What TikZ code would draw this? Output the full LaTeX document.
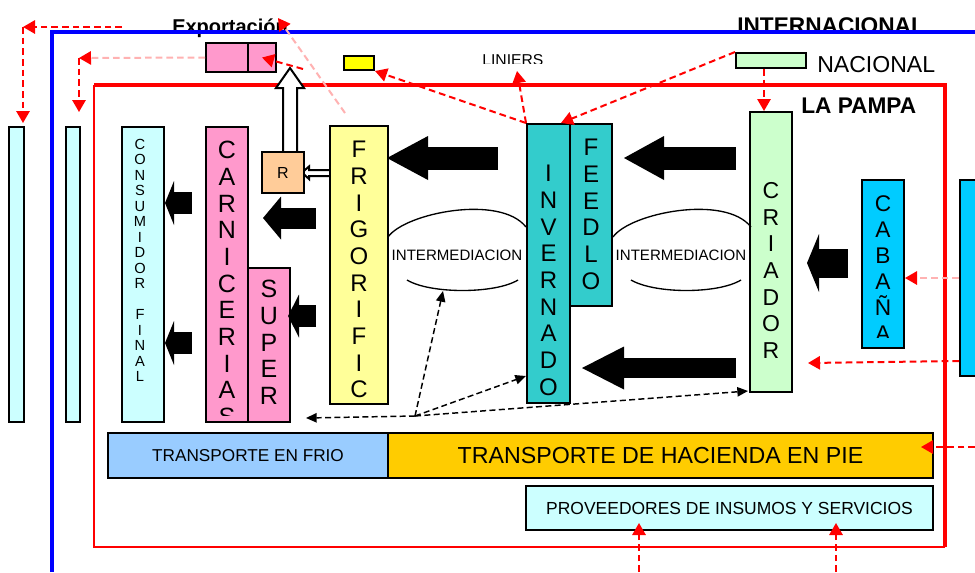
\documentclass[tikz,border=0pt]{standalone}
\usepackage{fontspec}
\setmainfont{Liberation Sans}
\usetikzlibrary{arrows.meta,fit,calc}
\definecolor{cLC}{HTML}{CCFFFF}
\definecolor{cPk}{HTML}{FF99CC}
\definecolor{cOr}{HTML}{FFCC99}
\definecolor{cYl}{HTML}{FFFF99}
\definecolor{cYY}{HTML}{FFFF00}
\definecolor{cTl}{HTML}{33CCCC}
\definecolor{cGr}{HTML}{CCFFCC}
\definecolor{cBr}{HTML}{00CCFF}
\definecolor{cBl}{HTML}{99CCFF}
\definecolor{cGo}{HTML}{FFCC00}
\definecolor{cRed}{HTML}{FF0000}
\definecolor{cBlue}{HTML}{0000FF}
\begin{document}
\begin{tikzpicture}[x=0.75pt,y=-0.75pt,
  box/.style={draw=black,line width=1.5pt,inner sep=0pt},
  vt/.style={anchor=north,inner sep=0pt,align=center},
  lbl/.style={inner sep=0pt},
  fat/.style n args={3}{draw=black,line width=#1,line cap=butt,-{Triangle[length=#2,width=#3,line width=0pt]}},
  rd/.style={draw=cRed,line width=1.5pt,dash pattern=on 5pt off 3pt,-{Triangle[length=9pt,width=10pt,color=cRed]}},
  rdpale/.style={rd,draw=cRed!30},
  bd/.style={draw=black,line width=1.1pt,dash pattern=on 4.5pt off 2.5pt,-{Triangle[length=8pt,width=7pt]}},
  hollow/.style={draw=black,line width=1.5pt,fill=white,line join=miter},
  arcst/.style={draw=black,line width=1pt}
]
\useasboundingbox (0,0) rectangle (975,572);
\fill[white] (0,0) rectangle (975,572);

% level coordinates
\coordinate (y158) at (0,158);
\coordinate (y368) at (0,368);
\coordinate (y263) at (0,263);
\coordinate (y218) at (0,218);
\coordinate (y316) at (0,316);
\coordinate (y203) at (0,203);
\coordinate (y343) at (0,343);
\coordinate (y376) at (0,376);
\coordinate (y278) at (0,278);
\coordinate (y361) at (0,361);
\coordinate (y363) at (0,363);

% titles under the blue line
\node[lbl,anchor=base west,font=\bfseries\fontsize{15pt}{18pt}\selectfont] (exptxt) at (172,33) {Exportación};
\node[lbl,anchor=base west,font=\bfseries\fontsize{17pt}{20pt}\selectfont] (intl) at (737,33.3) {INTERNACIONAL};

% frames
\draw[cBlue,line width=2.6pt] (52,572) -- (52,32) -- (975,32);
\draw[cRed,line width=1.6pt] (945,547) -- (94,547) -- (94,85);
\draw[cRed,line width=2.6pt] (94,85) -- (945,85) -- (945,547);

\node[lbl,anchor=base west,font=\fontsize{17.3pt}{20pt}\selectfont] (nactxt) at (817,72.5) {NACIONAL};
\node[lbl,anchor=base west,font=\bfseries\fontsize{17pt}{20pt}\selectfont] (pampa) at (801,113.5) {LA PAMPA};

% hollow arrows
\draw[hollow] (283,152) -- (283,88) -- (276,88) -- (290,68) -- (304,88) -- (297,88) -- (297,152);
\draw[hollow] (330,170) -- (309,170) -- (309,166.5) -- (302,172.5) -- (309,179) -- (309,176) -- (330,176);

% boxes
\node[box,fill=cLC,fit={(9,127) (24,422)}] (bar1) {};
\node[box,fill=cLC,fit={(66,127) (80,422)}] (bar2) {};
\node[box,fill=cBr,fit={(960,180) (985,376)}] (rbar) {};
\node[box,fill=cLC,fit={(122,127) (164,422)}] (cons) {};
\node[box,fill=cPk,fit={(206,127) (248,422)}] (carn) {};
\node[box,fill=cPk,fit={(248,268) (290,422)}] (sup) {};
\node[box,fill=cYl,fit={(330,126) (388,404)}] (frig) {};
\node[box,fill=cOr,fit={(262,152) (304,193)}] (rr) {};
\node[box,fill=cPk,fit={(206,43) (248,72)}] (exp1) {};
\node[box,fill=cPk,fit={(248,43) (276,72)}] (exp2) {};
\node[box,fill=cYY,fit={(344,56) (374,70)}] (yel) {};
\node[box,fill=cGr,fit={(736,53) (806,68)}] (nac) {};
\node[box,fill=cTl,fit={(527,124) (570,403)}] (inv) {};
\node[box,fill=cTl,fit={(570,124) (612,306)}] (feed) {};
\node[box,fill=cGr,fit={(750,112) (792,392)}] (cri) {};
\node[box,fill=cBr,fit={(862,180) (904,348)}] (cab) {};
\node[box,fill=cBl,fit={(108,433) (388,478)}] (frio) {};
\node[box,fill=cGo,fit={(388,433) (933,478)}] (hac) {};
\node[box,fill=cLC,fit={(526,486) (933,530)}] (prov) {};

% LINIERS (cut at the bottom)
\begin{scope}
\clip (470,45) rectangle (560,63.5);
\node[lbl,anchor=base west,font=\fontsize{11.8pt}{14pt}\selectfont] (lin) at (482,65.2) {LINIERS};
\end{scope}

% vertical texts
\begin{scope}
\clip (cons.north west) rectangle ($(cons.south east)+(0,-8)$);
\node[vt,font=\fontsize{11pt}{11.6pt}\selectfont] (consT) at (140,139) {C\\O\\N\\S\\U\\M\\I\\D\\O\\R\\\mbox{}\\F\\I\\N\\A\\L};
\end{scope}
\begin{scope}
\clip (carn.north west) rectangle ($(carn.south east)+(0,-8)$);
\node[vt,font=\fontsize{18.75pt}{20pt}\selectfont] (carnT) at (carn.north|-0,141) {C\\A\\R\\N\\I\\C\\E\\R\\I\\A\\S};
\end{scope}
\begin{scope}
\clip (sup.north west) rectangle ($(sup.south east)+(0,-8)$);
\node[vt,font=\fontsize{18.75pt}{20pt}\selectfont] (supT) at (sup.north|-0,280) {S\\U\\P\\E\\R};
\end{scope}
\begin{scope}
\clip (frig.north west) rectangle ($(frig.south east)+(0,-8)$);
\node[vt,font=\fontsize{18pt}{20pt}\selectfont] (frigT) at (frig.north|-0,141) {F\\R\\I\\G\\O\\R\\I\\F\\I\\C\\O};
\end{scope}
\begin{scope}
\clip (inv.north west) rectangle ($(inv.south east)+(0,-5)$);
\node[vt,font=\fontsize{18pt}{20pt}\selectfont] (invT) at (inv.north|-0,165) {I\\N\\V\\E\\R\\N\\A\\D\\O\\R};
\end{scope}
\begin{scope}
\clip (feed.north west) rectangle ($(feed.south east)+(0,-12)$);
\node[vt,font=\fontsize{18pt}{20pt}\selectfont] (feedT) at (feed.north|-0,139) {F\\E\\E\\D\\L\\O\\T};
\end{scope}
\begin{scope}
\clip (cri.north west) rectangle ($(cri.south east)+(0,-8)$);
\node[vt,font=\fontsize{17.25pt}{20pt}\selectfont] (criT) at (cri.north|-0,182) {C\\R\\I\\A\\D\\O\\R};
\end{scope}
\begin{scope}
\clip (cab.north west) rectangle ($(cab.south east)+(0,-12)$);
\node[vt,font=\fontsize{17pt}{19.5pt}\selectfont] (cabT) at (cab.north|-0,195) {C\\A\\B\\A\\Ñ\\A};
\end{scope}

\node[font=\fontsize{12pt}{14pt}\selectfont,inner sep=0pt] (rtxt) at (rr.center) {R};
\node[font=\fontsize{12.9pt}{15pt}\selectfont,inner sep=0pt] (frioT) at (frio.center) {TRANSPORTE EN FRIO};
\node[font=\fontsize{17.4pt}{20pt}\selectfont,inner sep=0pt] (hacT) at (hac.center) {TRANSPORTE DE HACIENDA EN PIE};
\node[font=\fontsize{13.1pt}{15pt}\selectfont,inner sep=0pt] (provT) at (prov.center) {PROVEEDORES DE INSUMOS Y SERVICIOS};

% intermediacion
\node[font=\fontsize{11.3pt}{13pt}\selectfont,inner sep=0pt] (int1) at (457,255) {INTERMEDIACION};
\node[font=\fontsize{11.3pt}{13pt}\selectfont,inner sep=0pt] (int2) at (681,255) {INTERMEDIACION};
\draw[arcst] (388,237) .. controls (405,213) and (500,194) .. (526,227);
\draw[arcst] (407,280) .. controls (430,294) and (495,294) .. (518,280);
\draw[arcst] (613,237) .. controls (630,213) and (725,194) .. (751,227);
\draw[arcst] (631,280) .. controls (655,294) and (718,294) .. (741,280);
\coordinate (ia) at (443,291);

% fat black arrows
\draw[fat={17.25pt}{30pt}{33pt}] ($(cri.west|-y158)+(-13,0)$) -- ($(feed.east|-y158)+(11,0)$);
\draw[fat={15pt}{31.5pt}{32.25pt}] ($(cri.west|-y368)+(-13,0)$) -- ($(inv.east|-y368)+(11,0)$);
\draw[fat={17.25pt}{30.75pt}{33pt}] ($(inv.west|-y158)+(-28,0)$) -- ($(frig.east|-y158)+(-2,0)$);
\draw[fat={21.75pt}{9pt}{43.5pt}] ($(cab.west|-y263)+(-13,0)$) -- ($(cri.east|-y263)+(14,0)$);
\draw[fat={15.75pt}{13.5pt}{32.25pt}] ($(frig.west|-y218)+(-13,0)$) -- ($(carn.east|-y218)+(14,0)$);
\draw[fat={16.5pt}{8.25pt}{32.25pt}] ($(frig.west|-y316)+(-13,0)$) -- ($(sup.east|-y316)+(-3,0)$);
\draw[fat={16.5pt}{6.75pt}{33pt}] ($(carn.west|-y203)+(-13,0)$) -- (cons.east|-y203);
\draw[fat={16.5pt}{6.75pt}{33pt}] ($(carn.west|-y343)+(-13,0)$) -- (cons.east|-y343);

% black dashed arrows
\coordinate (dj) at (415,416);
\draw[bd] (dj) -- ($(sup.south east)+(15,-5)$);
\draw[bd] (dj) -- (ia);
\draw[bd] (dj) -- (inv.west|-y376);
\draw[bd] (dj) -- ($(cri.south west)+(-1,-2)$);

% red dashed arrows
\coordinate (tl0) at (122,27);
\coordinate (c1) at (23,27);
\draw[rd] (tl0) -- (c1);
\draw[rd] (c1) -- ($(c1|-bar1.north)+(0,-3)$);
\coordinate (c2) at (79,58);
\draw[rdpale] (exp1.west) -- (c2);
\draw[rd] (c2) -- ($(c2|-bar2.north)+(0,-14)$);
\coordinate (f1) at (303,69);
\draw[rd] (f1) -- (exp2.center);
\coordinate (f2) at (345,113);
\coordinate (ex1) at (278,18);
\draw[rdpale] (f2) -- (ex1);
\coordinate (lin1) at (517,71);
\draw[rd] (inv.north west) -- (lin1);
\draw[rd] (inv.north west) -- (yel.south east);
\draw[rd] (nac.north west) -- ($(inv.north east)+(-10,0)$);
\draw[rd] ($(nac.south)+(-7,0)$) -- ($(cri.north)+(-7,0)$);
\draw[rdpale] (rbar.west|-y278) -- (cab.east|-y278);
\draw[rd] (rbar.west|-y361) -- ($(cri.east|-y363)+(15,0)$);
\coordinate (rt) at (975,447);
\draw[rd] (rt) -- ($(hac.east|-rt)+(-13,0)$);
\coordinate (b1) at (639,572);
\draw[rd] (b1) -- ($(b1|-prov.south)+(0,-8)$);
\coordinate (b2) at (836,572);
\draw[rd] (b2) -- ($(b2|-prov.south)+(0,-8)$);
\end{tikzpicture}
\end{document}
